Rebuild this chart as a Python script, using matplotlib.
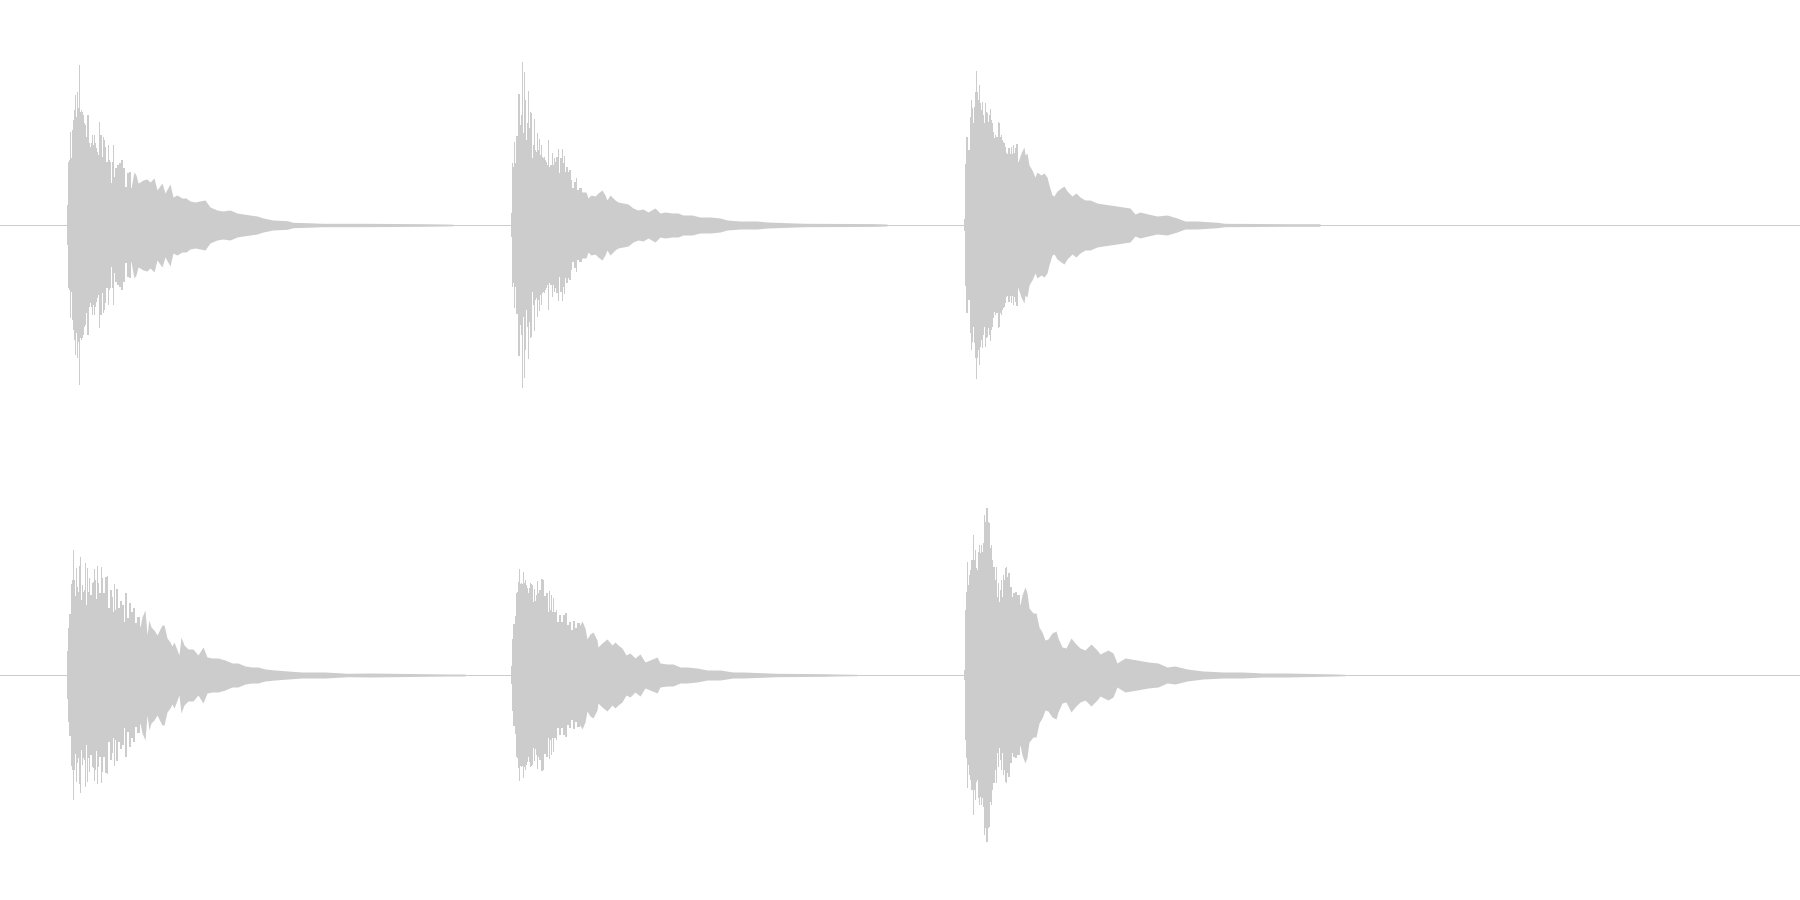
#!/usr/bin/env python3
"""Stereo waveform of three plucked notes: peak envelope per channel."""
import matplotlib
matplotlib.use('Agg')
import matplotlib.pyplot as plt
import numpy as np

WAVE_COLOR = "#cccccc"

# ---- top channel: position (image px), peak amplitude (px from centre) ----
top1_x = [67, 68, 69, 70, 71, 72, 73, 74, 75, 76, 77, 78, 79, 80, 81, 82, 83, 84, 85, 86, 87, 88, 89, 90, 91, 92, 93, 94, 95, 96, 97, 98, 99, 100, 101, 102, 103, 104, 105, 106, 108, 109, 110, 111, 112, 113, 114, 115, 117, 119, 121, 123, 125, 127, 129, 131, 134, 136, 138, 140, 143, 147, 150, 154, 157, 162, 165, 170, 173, 177, 182, 186, 190, 195, 200, 205, 210, 217, 223, 230, 237, 243, 250, 257, 263, 273, 287, 293, 307, 323, 363, 422, 443, 453]
top1_a = [20, 63, 65, 93, 67, 95, 105, 115, 130, 108, 133, 117, 160, 113, 115, 113, 110, 102, 100, 88, 110, 110, 82, 78, 82, 90, 80, 90, 82, 77, 73, 70, 103, 90, 90, 68, 88, 85, 78, 63, 80, 65, 63, 42, 63, 80, 48, 57, 60, 62, 65, 57, 38, 52, 53, 37, 53, 50, 42, 43, 45, 46, 43, 47, 35, 42, 32, 41, 28, 30, 27, 27, 24, 23, 24, 25, 18, 15, 14, 15, 12, 11, 10, 9, 7, 5, 4.3, 2.7, 2.3, 1.7, 1.7, 1.3, 1.0, 0.8]

top2_x = [511, 512, 513, 514, 515, 516, 517, 518, 519, 520, 521, 522, 523, 524, 525, 526, 527, 528, 529, 530, 531, 532, 533, 534, 535, 536, 537, 538, 539, 540, 541, 542, 543, 544, 545, 546, 547, 548, 549, 550, 552, 553, 554, 555, 556, 558, 559, 560, 562, 563, 564, 565, 566, 568, 569, 570, 571, 572, 574, 576, 577, 579, 582, 586, 588, 591, 595, 598, 602, 605, 607, 610, 615, 618, 623, 628, 633, 638, 643, 648, 655, 660, 665, 672, 678, 683, 692, 700, 710, 720, 727, 740, 757, 767, 787, 805, 873, 887]
top2_a = [12, 62, 58, 83, 62, 89, 89, 131, 131, 100, 110, 163, 92, 153, 125, 85, 102, 134, 97, 113, 112, 67, 80, 106, 75, 73, 92, 75, 86, 70, 80, 68, 67, 68, 65, 63, 60, 85, 58, 60, 72, 60, 67, 63, 68, 76, 52, 67, 76, 62, 69, 53, 58, 53, 55, 55, 45, 37, 43, 47, 35, 37, 33, 33, 27, 30, 29, 32, 35, 30, 25, 30, 25, 23, 22, 21, 17, 15, 16, 13, 17, 12, 13, 12, 12, 10, 10, 8, 8, 7, 5, 4, 4, 3, 2.3, 1.7, 1.4, 1.0]

top3_x = [964, 965, 966, 967, 968, 970, 971, 972, 973, 974, 975, 976, 977, 978, 979, 980, 981, 982, 983, 984, 985, 986, 987, 988, 989, 990, 991, 992, 993, 994, 995, 996, 997, 998, 999, 1000, 1001, 1002, 1003, 1004, 1005, 1006, 1007, 1008, 1010, 1011, 1012, 1013, 1014, 1015, 1016, 1018, 1021, 1022, 1024, 1025, 1027, 1029, 1032, 1035, 1037, 1041, 1044, 1047, 1049, 1052, 1054, 1057, 1061, 1064, 1067, 1072, 1076, 1080, 1085, 1090, 1097, 1103, 1110, 1117, 1123, 1130, 1135, 1140, 1148, 1157, 1167, 1177, 1185, 1197, 1217, 1225, 1286, 1320]
top3_a = [6, 61, 88, 88, 75, 108, 125, 117, 102, 118, 133, 154, 133, 125, 140, 122, 115, 123, 110, 102, 122, 113, 112, 103, 110, 116, 105, 102, 93, 87, 90, 88, 88, 103, 102, 88, 90, 85, 83, 82, 78, 72, 71, 77, 71, 78, 71, 80, 72, 77, 81, 63, 72, 74, 78, 70, 72, 60, 55, 48, 53, 50, 52, 48, 40, 30, 29, 34, 37, 39, 34, 29, 32, 28, 25, 25, 22, 21, 20, 19, 18, 17, 11, 13, 11, 9, 10, 7, 4, 4, 2.7, 1.7, 1.3, 1.3]

# ---- bottom channel ----
bot1_x = [67, 68, 69, 71, 72, 73, 74, 75, 76, 77, 78, 79, 80, 81, 82, 83, 84, 85, 86, 87, 88, 89, 90, 91, 92, 93, 94, 95, 96, 97, 98, 99, 101, 102, 103, 105, 107, 108, 110, 112, 113, 114, 115, 116, 118, 120, 122, 124, 125, 127, 129, 131, 133, 135, 137, 140, 142, 145, 147, 149, 151, 154, 157, 162, 164, 167, 170, 172, 174, 179, 181, 184, 188, 193, 198, 203, 207, 212, 218, 225, 232, 238, 245, 252, 258, 265, 275, 288, 302, 315, 325, 348, 370, 448, 465]
bot1_a = [24, 47, 61, 91, 95, 125, 95, 79, 107, 88, 83, 109, 118, 75, 90, 83, 85, 112, 70, 107, 83, 97, 80, 80, 92, 93, 106, 95, 76, 109, 92, 82, 108, 97, 82, 98, 99, 67, 85, 78, 63, 91, 65, 86, 67, 74, 70, 53, 82, 57, 72, 63, 67, 52, 58, 48, 58, 65, 40, 55, 48, 45, 40, 50, 50, 37, 33, 29, 33, 20, 38, 30, 26, 26, 20, 28, 18, 17, 17, 15, 12, 12, 9, 8, 8, 6, 5, 4, 3, 3, 3, 1.7, 2, 1, 1]

bot2_x = [511, 512, 513, 515, 516, 517, 518, 519, 520, 521, 522, 523, 524, 525, 526, 527, 528, 529, 530, 531, 532, 533, 534, 535, 536, 537, 538, 539, 541, 543, 544, 546, 548, 549, 550, 551, 552, 553, 554, 556, 557, 559, 561, 563, 565, 567, 569, 571, 573, 575, 577, 580, 582, 585, 587, 590, 593, 597, 598, 602, 607, 612, 615, 618, 622, 626, 630, 635, 640, 645, 650, 657, 660, 667, 673, 680, 687, 697, 707, 720, 733, 743, 777, 825, 835, 857]
bot2_a = [9, 36, 51, 59, 82, 83, 93, 106, 91, 92, 91, 103, 92, 95, 90, 87, 82, 87, 92, 91, 90, 73, 86, 74, 80, 94, 82, 85, 96, 95, 79, 82, 63, 84, 65, 80, 63, 77, 63, 65, 53, 60, 53, 60, 62, 50, 53, 45, 54, 47, 52, 50, 54, 47, 36, 41, 43, 35, 28, 32, 36, 30, 33, 30, 27, 20, 22, 17, 21, 13, 15, 18, 12, 11, 11, 8, 8, 7, 5, 5, 3, 3, 1.7, 1.3, 1, 0.7]

bot3_x = [964, 965, 966, 967, 968, 969, 970, 971, 973, 974, 975, 976, 977, 978, 979, 980, 981, 982, 983, 984, 985, 986, 987, 988, 989, 990, 991, 992, 993, 994, 995, 996, 997, 998, 999, 1000, 1001, 1002, 1003, 1004, 1005, 1006, 1007, 1008, 1010, 1012, 1013, 1015, 1017, 1020, 1022, 1025, 1027, 1029, 1033, 1036, 1039, 1042, 1045, 1048, 1052, 1056, 1058, 1062, 1066, 1071, 1075, 1080, 1085, 1091, 1097, 1100, 1108, 1113, 1117, 1125, 1137, 1148, 1158, 1167, 1175, 1187, 1203, 1223, 1242, 1263, 1287, 1337, 1345]
bot3_a = [5, 65, 83, 113, 90, 100, 105, 115, 140, 115, 125, 107, 105, 123, 130, 122, 130, 123, 132, 160, 153, 167, 167, 153, 152, 127, 130, 115, 108, 108, 95, 108, 78, 92, 73, 85, 95, 78, 100, 95, 107, 108, 98, 102, 88, 78, 82, 83, 80, 70, 80, 88, 82, 67, 62, 62, 48, 43, 35, 36, 42, 44, 37, 28, 27, 37, 32, 27, 25, 31, 25, 21, 25, 22, 12, 17, 15, 13, 12, 8, 9, 6, 4, 3, 3, 2, 2, 1, 0.7]

top_notes = [(top1_x, top1_a), (top2_x, top2_a), (top3_x, top3_a)]
bot_notes = [(bot1_x, bot1_a), (bot2_x, bot2_a), (bot3_x, bot3_a)]


def plot_channel(ax, notes):
    ax.axhline(0, color=WAVE_COLOR, linewidth=0.72)
    for xs, amps in notes:
        xs = np.array(xs, dtype=float)
        amps = np.array(amps, dtype=float)
        # single-pixel bars for the attack, straight edges once readings get sparse
        cut = np.argmax(np.diff(xs) > 2) + 1
        ax.fill_between(xs[:cut + 1], -amps[:cut + 1], amps[:cut + 1], step="post",
                        color=WAVE_COLOR, linewidth=0, antialiased=False)
        # start one reading early so the two fills overlap, no seam
        ax.fill_between(xs[cut - 1:], -amps[cut - 1:], amps[cut - 1:], color=WAVE_COLOR,
                        linewidth=0, antialiased=True)
    ax.set_xlim(0, 1800)
    ax.set_ylim(-225, 225)
    ax.axis("off")


def main():
    fig = plt.figure(figsize=(18, 9), dpi=100, facecolor="white")
    plot_channel(fig.add_axes([0, 0.5, 1, 0.5]), top_notes)
    plot_channel(fig.add_axes([0, 0, 1, 0.5]), bot_notes)
    fig.savefig("out.png", dpi=100, facecolor="white")
    plt.close(fig)


if __name__ == "__main__":
    main()
